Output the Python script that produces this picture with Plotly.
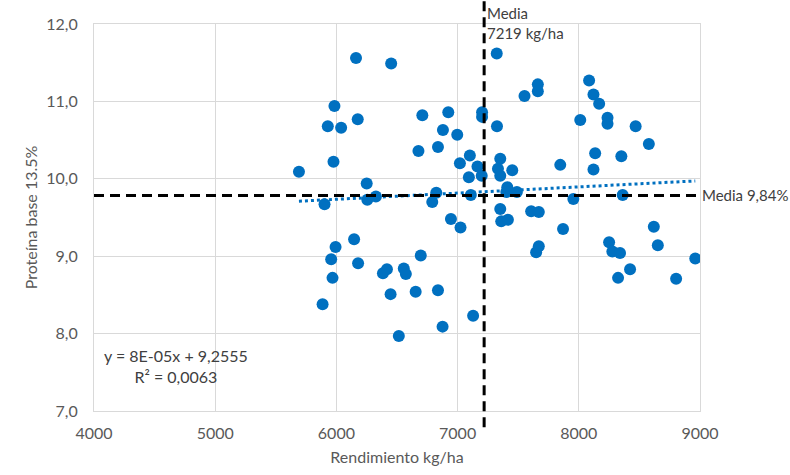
import plotly.graph_objects as go

rendimiento = [6162, 6452, 5984, 5929, 6039, 6176, 6709, 6923, 6879, 6997,
               6677, 6838, 7101, 7019, 7164, 7093, 7199, 7202, 7202, 5976,
               5691, 6250, 6255, 6326, 5902, 6824, 6791, 7109, 6945, 7024,
               6146, 5993, 5957, 6179, 6696, 5968, 6384, 6417, 6556, 6573,
               6447, 6654, 6838, 5886, 7128, 6876, 6515, 7323, 7662, 7662,
               7552, 8085, 8121, 8168, 7325, 8012, 8237, 8237, 8469, 8578,
               7352, 7333, 7352, 7451, 7847, 8135, 8121, 8351, 7410, 7402,
               7489, 7955, 8362, 7352, 7607, 7670, 7360, 7415, 7870, 7648,
               7670, 8250, 8277, 8340, 8619, 8652, 8961, 8423, 8324, 8803]
proteina = [11.56, 11.49, 10.94, 10.68, 10.66, 10.77, 10.82, 10.86, 10.63, 10.57,
            10.36, 10.41, 10.30, 10.20, 10.16, 10.02, 10.04, 10.86, 10.80, 10.22,
            10.09, 9.94, 9.73, 9.77, 9.67, 9.82, 9.70, 9.79, 9.48, 9.37,
            9.22, 9.12, 8.96, 8.91, 9.01, 8.72, 8.78, 8.83, 8.84, 8.77,
            8.51, 8.54, 8.56, 8.38, 8.23, 8.09, 7.97, 11.62, 11.22, 11.13,
            11.07, 11.27, 11.09, 10.97, 10.68, 10.76, 10.79, 10.71, 10.68, 10.45,
            10.26, 10.13, 10.04, 10.11, 10.18, 10.33, 10.12, 10.29, 9.89, 9.83,
            9.83, 9.74, 9.79, 9.61, 9.58, 9.57, 9.45, 9.47, 9.35, 9.05,
            9.13, 9.18, 9.06, 9.04, 9.38, 9.14, 8.97, 8.83, 8.72, 8.71]

# trendline coefficients as printed on the chart
pendiente = 8e-05
intercepto = 9.2555
media_x = 7219
media_y_linea = 9.785   # where the dashed mean line is drawn in the picture
media_y_texto = "Media 9,84%"

x_ticks = [4000, 5000, 6000, 7000, 8000, 9000]
y_ticks = [7.0, 8.0, 9.0, 10.0, 11.0, 12.0]
y_tick_labels = ["7,0", "8,0", "9,0", "10,0", "11,0", "12,0"]

BLUE = "#0070C0"
GRAY_TXT = "#595959"
DARK_TXT = "#404040"
FONT = "Lato"

fig = go.Figure()

fig.add_trace(go.Scatter(
    x=rendimiento, y=proteina, mode="markers",
    marker=dict(color=BLUE, size=12, line=dict(width=0)),
    showlegend=False, hoverinfo="skip"))

xmin, xmax = min(rendimiento), max(rendimiento)
fig.add_trace(go.Scatter(
    x=[xmin, xmax], y=[pendiente * xmin + intercepto, pendiente * xmax + intercepto],
    mode="lines", line=dict(color=BLUE, width=3, dash="dot"),
    showlegend=False, hoverinfo="skip"))

# mean lines
fig.add_shape(type="line", xref="x", yref="paper", x0=media_x, x1=media_x,
              y0=-0.042, y1=1.06, line=dict(color="black", width=3, dash="10px,6px"))
fig.add_shape(type="line", xref="x", yref="y", x0=4000, x1=9000,
              y0=media_y_linea, y1=media_y_linea,
              line=dict(color="black", width=3, dash="10px,6px"))

fig.add_annotation(x=media_x, xref="x", y=1.058, yref="paper", xanchor="left",
                   yanchor="top", xshift=1, showarrow=False, align="left",
                   text="Media<br>7219 kg/ha", font=dict(family=FONT, size=15, color=DARK_TXT))
fig.add_annotation(x=1.0, xref="paper", y=media_y_linea, yref="y", xanchor="left",
                   xshift=0, showarrow=False, text=media_y_texto,
                   font=dict(family=FONT, size=15, color=DARK_TXT))
fig.add_annotation(x=4070, xref="x", y=7.58, yref="y", xanchor="left",
                   showarrow=False, align="center",
                   text="y = 8E-05x + 9,2555<br>R² = 0,0063",
                   font=dict(family=FONT, size=16, color=DARK_TXT))

fig.update_layout(
    width=790, height=475,
    margin=dict(l=94, r=90, t=24, b=61),
    paper_bgcolor="white", plot_bgcolor="white",
    font=dict(family=FONT, size=16, color=GRAY_TXT),
    xaxis=dict(range=[4000, 9000], tickvals=x_ticks, showgrid=True,
               gridcolor="#d9d9d9", gridwidth=1, zeroline=False,
               showline=True, linecolor="#d9d9d9", mirror=True,
               ticks="", ticklabelstandoff=8,
               title=dict(text="Rendimiento kg/ha", standoff=10,
                          font=dict(size=16, color=GRAY_TXT)),
               tickfont=dict(size=16, color=GRAY_TXT)),
    yaxis=dict(range=[7, 12], tickvals=y_ticks, ticktext=y_tick_labels,
               showgrid=True, gridcolor="#d9d9d9", gridwidth=1, zeroline=False,
               showline=True, linecolor="#d9d9d9", mirror=True, ticks="",
               ticklabelstandoff=12,
               title=dict(text="Proteína base 13.5%", standoff=4,
                          font=dict(size=16, color=GRAY_TXT)),
               tickfont=dict(size=16, color=GRAY_TXT)),
)

fig.write_html("out.html")
